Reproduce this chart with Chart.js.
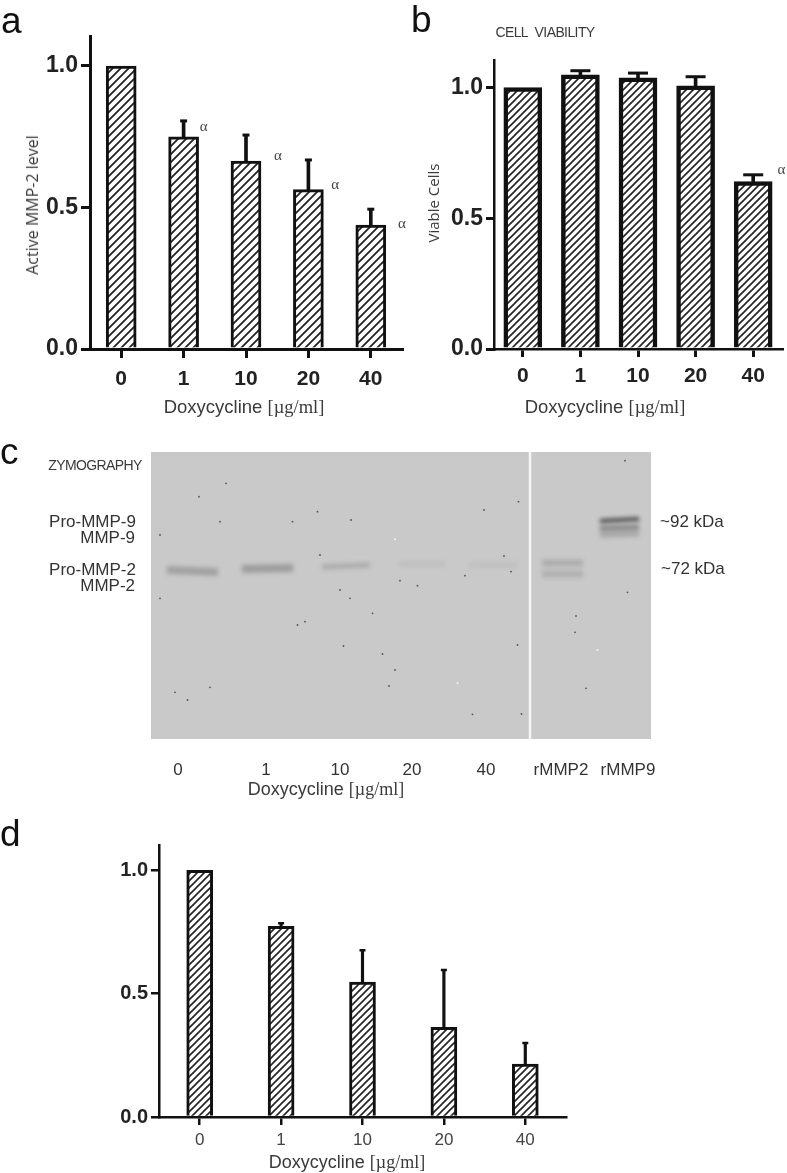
<!DOCTYPE html>
<html>
<head>
<meta charset="utf-8">
<title>Doxycycline MMP figure</title>
<script src="https://cdn.jsdelivr.net/npm/chart.js@4"></script>
<style>
html, body { margin: 0; padding: 0; background: #fff; }
body { position: relative; width: 787px; height: 1173px; overflow: hidden; font-family: "Liberation Sans", sans-serif; }
canvas { position: absolute; }
.t { position: absolute; white-space: nowrap; color: #3a3a3a; transform: translate(-50%, -50%); }
.t b { font-family: "Liberation Serif", serif; font-weight: normal; }
.letter { color: #111; font-size: 37px; transform: none; line-height: 37px; }
.rot { transform: translate(-50%, -50%) rotate(-90deg); font-family: "Open Sans", sans-serif; }
.small { font-size: 14px; font-family: "Liberation Sans", sans-serif; letter-spacing: -0.6px; }
.r { transform: translate(-100%, -50%); }
.l { transform: translate(0, -50%); }
.gel { font-size: 17px; color: #333; }
</style>
</head>
<body>
<canvas id="chartA" width="410" height="371" style="left:0;top:29px"></canvas>
<canvas id="chartB" width="385" height="370" style="left:410px;top:30px"></canvas>
<canvas id="chartC" width="787" height="335" style="left:0;top:445px"></canvas>
<canvas id="chartD" width="600" height="334" style="left:0;top:839px"></canvas>

<div class="t letter" style="left:1px;top:2px">a</div>
<div class="t letter" style="left:411px;top:1px">b</div>
<div class="t letter" style="left:0;top:433px">c</div>
<div class="t letter" style="left:0;top:815px">d</div>

<div class="t rot" style="left:32px;top:205px;font-size:16px">Active MMP-2 level</div>
<div class="t rot" style="left:433px;top:203px;font-size:15px">Viable Cells</div>
<div class="t small" style="left:545px;top:32px">CELL&nbsp; VIABILITY</div>
<div class="t small" style="left:95px;top:465px">ZYMOGRAPHY</div>

<div class="t" style="left:244px;top:407px;font-size:18.5px">Doxycycline <b>[µg/ml]</b></div>
<div class="t" style="left:605px;top:407px;font-size:18.5px">Doxycycline <b>[µg/ml]</b></div>
<div class="t" style="left:326px;top:789px;font-size:18px">Doxycycline <b>[µg/ml]</b></div>
<div class="t" style="left:347px;top:1162px;font-size:18px">Doxycycline <b>[µg/ml]</b></div>

<div class="t r gel" style="left:136px;top:522px">Pro-MMP-9</div>
<div class="t r gel" style="left:135px;top:538px">MMP-9</div>
<div class="t r gel" style="left:136px;top:570px">Pro-MMP-2</div>
<div class="t r gel" style="left:135px;top:586px">MMP-2</div>
<div class="t l gel" style="left:660px;top:522px">~92 kDa</div>
<div class="t l gel" style="left:661px;top:569px">~72 kDa</div>

<script>
var doses = ['0', '1', '10', '20', '40'];
var yTicks = [0, 0.5, 1];

var valuesA = [1.0, 0.75, 0.664, 0.563, 0.438];
var errTopA = [null, 0.806, 0.756, 0.668, 0.494];
var alphaIndexA = [1.32, 2.51, 3.43, 4.5];
var alphaValueA = [0.784, 0.682, 0.58, 0.44];

var valuesB = [1.0, 1.048, 1.037, 1.006, 0.64];
var errTopB = [null, 1.064, 1.055, 1.041, 0.666];
var alphaIndexB = [4.49];
var alphaValueB = [0.685];

var valuesD = [1.0, 0.773, 0.547, 0.364, 0.215];
var errTopD = [null, 0.786, 0.676, 0.596, 0.30];

// gel, all in pixels from the gel's top left corner
var laneLabels = ['0', '1', '10', '20', '40', 'rMMP2', 'rMMP9'];
var lanePos = [27, 115, 189, 261, 335, 410, 477];
var bandStart = [16, 91, 171, 248, 318, 391, 391, 449, 449, 449];
var bandEnd = [67, 142, 219, 294, 367, 432, 432, 488, 488, 488];
var bandYStart = [118, 117, 115, 112, 113, 111, 122, 69, 76, 82];
var bandYEnd = [120, 116, 113, 112, 113, 111, 122, 67, 75, 81];
var bandAlpha = [0.26, 0.29, 0.2, 0.09, 0.07, 0.18, 0.16, 0.85, 0.5, 0.22];
var bandThick = [8, 8, 5, 4, 5, 7, 7, 4, 4, 7];
var specksX = [9, 48, 75, 69, 141.5, 166.5, 200, 333, 367.5, 353, 169, 9, 154, 192.5, 59, 24, 36.5, 231.5, 244, 238, 321.5, 370.5, 366.5, 476.5, 425, 424, 435, 249, 266.5, 314, 360, 189, 199, 221.5, 146.5, 474];
var specksY = [83, 44.7, 31.3, 69.7, 69.7, 59.7, 68, 58, 49.7, 104, 103, 146.3, 169.7, 194, 235.3, 240.3, 248, 202, 218, 234, 262.3, 262, 193, 140.3, 164, 180.3, 236.3, 128.7, 133.7, 123.7, 119.7, 138, 146.3, 161.3, 173, 8.7];
var lightX = [244, 446.5, 306.5];
var lightY = [87.3, 198, 231];
var gapX = [379, 379];
var gapY = [0, 287];

function hatch(period, lineW) {
	var c = document.createElement('canvas');
	c.width = period;
	c.height = period;
	var g = c.getContext('2d');
	g.fillStyle = '#fff';
	g.fillRect(0, 0, period, period);
	g.strokeStyle = '#222';
	g.lineWidth = lineW;
	g.beginPath();
	g.moveTo(-period, period); g.lineTo(period, -period);
	g.moveTo(0, period); g.lineTo(period, 0);
	g.moveTo(0, 2 * period); g.lineTo(2 * period, 0);
	g.stroke();
	return g.createPattern(c, 'repeat');
}

// alpha marks next to the bars
var alphaPlugin = {
	id: 'alphaMarks',
	afterDatasetsDraw: function(chart, args, opts) {
		var g = chart.ctx;
		g.save();
		g.font = '15px "Liberation Serif", serif';
		g.fillStyle = '#444';
		g.textAlign = 'center';
		g.textBaseline = 'middle';
		(opts.index || []).forEach(function(ix, i) {
			g.fillText('α', chart.scales.x.getPixelForValue(ix), chart.scales.y.getPixelForValue(opts.value[i]));
		});
		g.restore();
	}
};

function createPanel(id, p) {
	new Chart(document.getElementById(id), {
		type: 'bar',
		data: {
			labels: doses,
			datasets: [{
				data: p.values,
				backgroundColor: hatch(p.period, p.hatchW),
				borderColor: '#111',
				borderWidth: p.barBorder,
				borderSkipped: 'bottom',
				barThickness: p.barW,
				grouped: false,
				order: 1
			}, {
				// error bar stems
				data: p.values.map(function(v, i) { return p.errTop[i] === null ? null : [v, p.errTop[i]]; }),
				backgroundColor: '#111',
				barThickness: p.stemW,
				grouped: false,
				order: 2
			}, {
				// error bar caps, these also reserve capW/2 + stemW of room round the chart
				type: 'line',
				data: p.errTop,
				showLine: false,
				pointStyle: 'line',
				pointRadius: p.capW / 2,
				pointBorderColor: '#111',
				pointBorderWidth: p.stemW,
				order: 3
			}]
		},
		options: {
			responsive: false,
			animation: false,
			devicePixelRatio: 1,
			layout: { padding: { top: p.padTop, right: p.padRight } },
			plugins: { legend: { display: false }, tooltip: { enabled: false }, alphaMarks: { index: p.alphaIndex, value: p.alphaValue } },
			scales: {
				x: {
					offset: true,
					afterFit: function(s) { s.height = p.xHeight; s.paddingLeft = 0; s.paddingRight = 0; },
					border: { color: '#111', width: p.axisW },
					grid: { offset: false, drawOnChartArea: false, color: '#111', lineWidth: p.tickW, tickLength: p.tickLen },
					ticks: { padding: p.xPad, color: p.xColor, maxRotation: 0, font: { family: '"Liberation Sans"', size: p.xSize, weight: p.xWeight } }
				},
				y: {
					min: 0,
					max: p.yMax,
					afterFit: function(s) { s.width = p.yWidth; s.paddingTop = 0; s.paddingBottom = 0; },
					afterBuildTicks: function(s) { s.ticks = yTicks.map(function(v) { return { value: v }; }); },
					border: { color: '#111', width: p.axisW },
					grid: { drawOnChartArea: false, color: '#111', lineWidth: p.tickW, tickLength: p.tickLen },
					ticks: { padding: 3, color: '#222', callback: function(v) { return v.toFixed(1); }, font: { family: '"Liberation Sans"', size: p.ySize, weight: 'bold' } }
				}
			}
		},
		plugins: [alphaPlugin]
	});
}

createPanel('chartA', {
	values: valuesA, errTop: errTopA, alphaIndex: alphaIndexA, alphaValue: alphaValueA,
	period: 8, hatchW: 1.8, barBorder: 3, barW: 30, stemW: 3, capW: 7, axisW: 3, tickW: 3, tickLen: 9,
	padTop: 7, padRight: 8, xHeight: 51, yWidth: 90, yMax: 1.106,
	xPad: 9, xColor: '#222', xSize: 21, xWeight: 'bold', ySize: 23
});

createPanel('chartB', {
	values: valuesB, errTop: errTopB, alphaIndex: alphaIndexB, alphaValue: alphaValueB,
	period: 7, hatchW: 1.6, barBorder: 4.5, barW: 38, stemW: 3, capW: 20, axisW: 2.5, tickW: 3, tickLen: 8,
	padTop: 30, padRight: 0, xHeight: 51, yWidth: 84, yMax: 1.105,
	xPad: 7, xColor: '#222', xSize: 21, xWeight: 'bold', ySize: 23
});

createPanel('chartD', {
	values: valuesD, errTop: errTopD,
	period: 7, hatchW: 1.6, barBorder: 3, barW: 26, stemW: 2.5, capW: 6, axisW: 2.5, tickW: 2.5, tickLen: 8,
	padTop: 6, padRight: 34, xHeight: 56, yWidth: 159, yMax: 1.101,
	xPad: 5, xColor: '#444', xSize: 17, xWeight: 'normal', ySize: 20
});

// the zymography gel: each band is a short line, softened like the photo
var blurPlugin = {
	id: 'gelBlur',
	beforeDraw: function(chart) {
		var a = chart.chartArea;
		chart.ctx.fillStyle = '#c9c9c9';
		chart.ctx.fillRect(a.left, a.top, a.right - a.left, a.bottom - a.top);
	},
	beforeDatasetDraw: function(chart, args) {
		var blur = chart.data.datasets[args.index].blur;
		if (blur) {
			chart.ctx.save();
			chart.ctx.filter = 'blur(' + blur + 'px)';
		}
	},
	afterDatasetDraw: function(chart, args) {
		if (chart.data.datasets[args.index].blur) chart.ctx.restore();
	}
};

function pairs(xs, ys) {
	return xs.map(function(x, i) { return { x: x, y: ys[i] }; });
}

var gelSets = bandStart.map(function(s, i) {
	return {
		type: 'line',
		data: [{ x: s, y: bandYStart[i] }, { x: bandEnd[i], y: bandYEnd[i] }],
		borderColor: 'rgba(50,50,50,' + bandAlpha[i] + ')',
		borderWidth: bandThick[i],
		pointRadius: 0,
		blur: 2
	};
});
gelSets.push({ type: 'scatter', data: pairs(specksX, specksY), pointRadius: 0.9, backgroundColor: '#555', borderWidth: 0 });
gelSets.push({ type: 'scatter', data: pairs(lightX, lightY), pointRadius: 1, backgroundColor: '#f4f4f4', borderWidth: 0 });
gelSets.push({ type: 'line', data: pairs(gapX, gapY), borderColor: '#f6f6f6', borderWidth: 2.5, pointRadius: 0 });

new Chart(document.getElementById('chartC'), {
	type: 'scatter',
	data: { datasets: gelSets },
	options: {
		responsive: false,
		animation: false,
		devicePixelRatio: 1,
		layout: { padding: { top: 7, left: 151, right: 136 } },
		plugins: { legend: { display: false }, tooltip: { enabled: false } },
		scales: {
			x: {
				type: 'linear',
				min: 0,
				max: 500,
				afterFit: function(s) { s.height = 41; s.paddingLeft = 0; s.paddingRight = 0; },
				afterBuildTicks: function(s) { s.ticks = lanePos.map(function(v) { return { value: v }; }); },
				border: { display: false },
				grid: { display: false },
				ticks: {
					padding: 13,
					color: '#333',
					autoSkip: false,
					maxRotation: 0,
					font: { family: '"Liberation Sans"', size: 17 },
					callback: function(v) { return laneLabels[lanePos.indexOf(v)]; }
				}
			},
			y: { display: false, min: 0, max: 287, reverse: true }
		}
	},
	plugins: [blurPlugin]
});
</script>
</body>
</html>
